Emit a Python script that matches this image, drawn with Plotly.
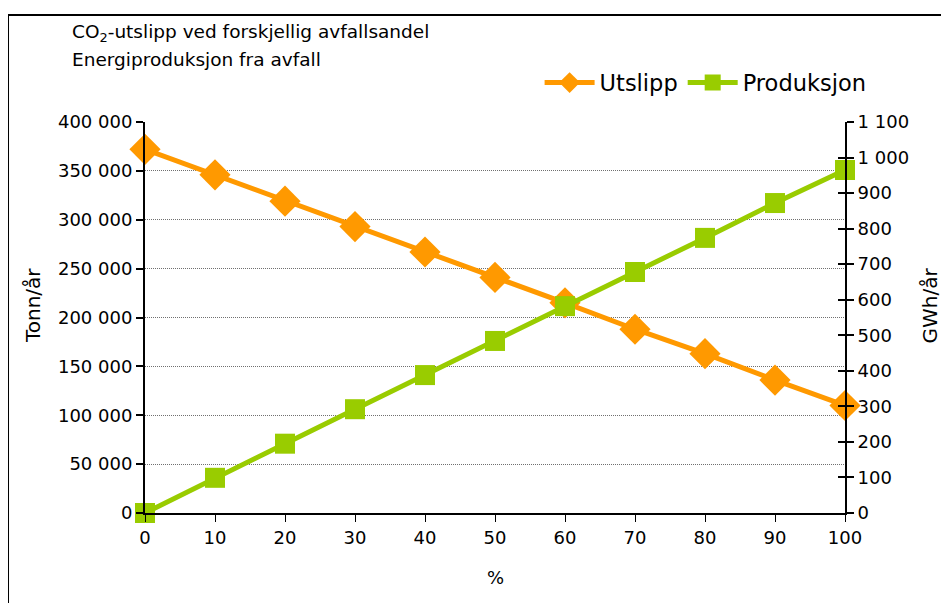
import plotly.graph_objects as go

andel = [0, 10, 20, 30, 40, 50, 60, 70, 80, 90, 100]
utslipp = [372000, 346000, 319000, 293000, 267000, 241000, 215000, 188000, 163000, 136000, 110000]
produksjon = [0, 99, 195, 292, 388, 484, 582, 678, 774, 872, 965]

ORANGE = "#FF9900"
GREEN = "#99CC00"
TF = "DejaVu Sans, Verdana, sans-serif"

fig = go.Figure()
fig.add_trace(go.Scatter(
    x=andel, y=utslipp, name="Utslipp", mode="lines+markers",
    line=dict(color=ORANGE, width=5),
    marker=dict(symbol="diamond", size=24, color=ORANGE),
    cliponaxis=False, yaxis="y"))
fig.add_trace(go.Scatter(
    x=andel, y=produksjon, name="Produksjon", mode="lines+markers",
    line=dict(color=GREEN, width=5),
    marker=dict(symbol="square", size=20, color=GREEN),
    cliponaxis=False, yaxis="y2"))
fig.add_trace(go.Scatter(
    x=[0], y=[0], mode="markers", marker=dict(opacity=0), showlegend=False,
    hoverinfo="skip", yaxis="y3"))

fig.update_layout(
    width=941, height=595,
    margin=dict(l=137, r=104, t=114, b=90),
    paper_bgcolor="white", plot_bgcolor="white",
    separators=", ",
    font=dict(family=TF, size=18, color="black"),
    showlegend=True,
    legend=dict(orientation="h", x=1.038, xanchor="right", y=1.10, yanchor="middle",
                font=dict(family=TF, size=22.5), bgcolor="rgba(0,0,0,0)",
                itemwidth=50, tracegroupgap=0),
    xaxis=dict(range=[0, 100], dtick=10, tick0=0, showgrid=False,
               showline=True, linecolor="black", linewidth=2,
               ticks="outside", ticklen=7, tickcolor="black", tickwidth=1,
               tickfont=dict(family=TF, size=18), zeroline=False),
    yaxis=dict(range=[0, 400000], dtick=50000, tickformat=",d",
               showgrid=True, gridcolor="#707070", griddash="1px,1px", gridwidth=1,
               showline=True, linecolor="black", linewidth=2,
               ticks="outside", ticklen=7, tickcolor="black", tickwidth=2,
               tickfont=dict(family=TF, size=18), zeroline=False),
    yaxis2=dict(range=[0, 1100], dtick=100, tickformat=",d", overlaying="y", side="right",
                showgrid=False, showline=True, linecolor="black", linewidth=2,
                ticks="outside", ticklen=7, tickcolor="black", tickwidth=2,
                tickfont=dict(family=TF, size=18), zeroline=False),
    yaxis3=dict(range=[0, 1100], dtick=100, overlaying="y", side="right",
                showgrid=False, showline=False, showticklabels=False,
                ticks="inside", ticklen=7, tickcolor="black", tickwidth=2,
                zeroline=False),
    annotations=[
        dict(text="CO<sub>2</sub>-utslipp ved forskjellig avfallsandel", xref="paper", yref="paper",
             x=-0.107, y=1.2276, xanchor="left", yanchor="middle", showarrow=False,
             font=dict(family=TF, size=18.5)),
        dict(text="Energiproduksjon fra avfall", xref="paper", yref="paper",
             x=-0.107, y=1.1586, xanchor="left", yanchor="middle", showarrow=False,
             font=dict(family=TF, size=18.5)),
        dict(text="Tonn/år", xref="paper", yref="paper", x=-0.161, y=0.53,
             xanchor="center", yanchor="middle", textangle=-90, showarrow=False,
             font=dict(family=TF, size=20)),
        dict(text="GWh/år", xref="paper", yref="paper", x=1.121, y=0.53,
             xanchor="center", yanchor="middle", textangle=-90, showarrow=False,
             font=dict(family=TF, size=20)),
        dict(text="%", xref="paper", yref="paper", x=0.5, y=-0.166,
             xanchor="center", yanchor="middle", showarrow=False,
             font=dict(family=TF, size=18)),
    ],
    shapes=[
        dict(type="line", xref="paper", yref="paper", x0=-0.1957, x1=-0.1957, y0=-0.5, y1=1.2737,
             line=dict(color="black", width=2)),
        dict(type="line", xref="paper", yref="paper", x0=-0.1957, x1=1.5, y0=1.2737, y1=1.2737,
             line=dict(color="black", width=2)),
    ],
)

fig.write_html("out.html")
